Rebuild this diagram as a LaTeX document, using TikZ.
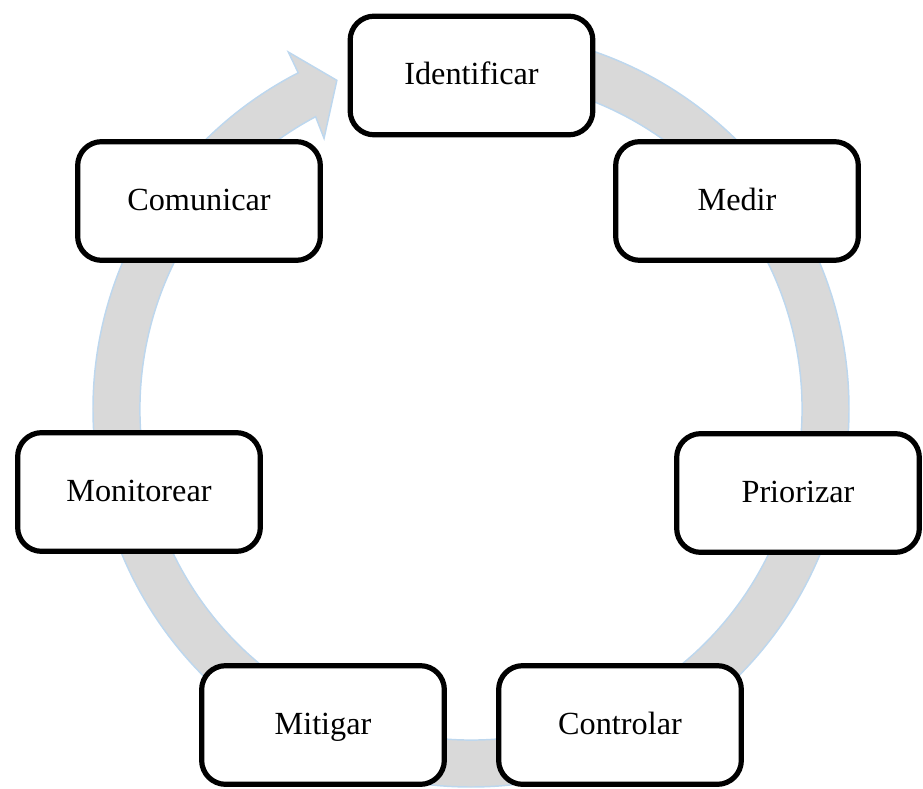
\documentclass[tikz,border=0pt]{standalone}
\usepackage{fontspec}
\setmainfont{Liberation Serif}
\definecolor{ringfill}{RGB}{217,217,217}
\definecolor{ringedge}{RGB}{189,215,238}
\begin{document}
\begin{tikzpicture}[x=0.75pt,y=0.75pt,
  stepbox/.style={draw=black, line width=3.9pt, fill=white, rounded corners=18pt,
    minimum width=182pt, minimum height=89pt, inner sep=0pt,
    text height=17pt, text depth=3pt,
    font=\fontsize{24.2}{29}\selectfont},
  ring/.style={fill=ringfill, draw=ringedge, line width=1.1pt, line join=miter}]
\useasboundingbox (-471,-379) rectangle (452,409);
% circular arrow
\path[ring] (90:378) arc[start angle=90, end angle=-242.8, radius=378]
  -- (-242.9:401) -- (-247.8:355) -- (-241.5:308) -- (-242.0:331)
  arc[start angle=-242.0, end angle=90, radius=331] -- cycle;
% steps
\node[stepbox] (ident) at (0.5,333.5) {Identificar};
\node[stepbox] (medir) at (266,208) {Medir};
\node[stepbox] (prior) at (327,-84) {Priorizar};
\node[stepbox] (contr) at (149,-316) {Controlar};
\node[stepbox] (mitig) at (-148,-316) {Mitigar};
\node[stepbox] (monit) at (-332,-83) {Monitorear};
\node[stepbox] (comun) at (-272,208) {Comunicar};
\end{tikzpicture}
\end{document}
